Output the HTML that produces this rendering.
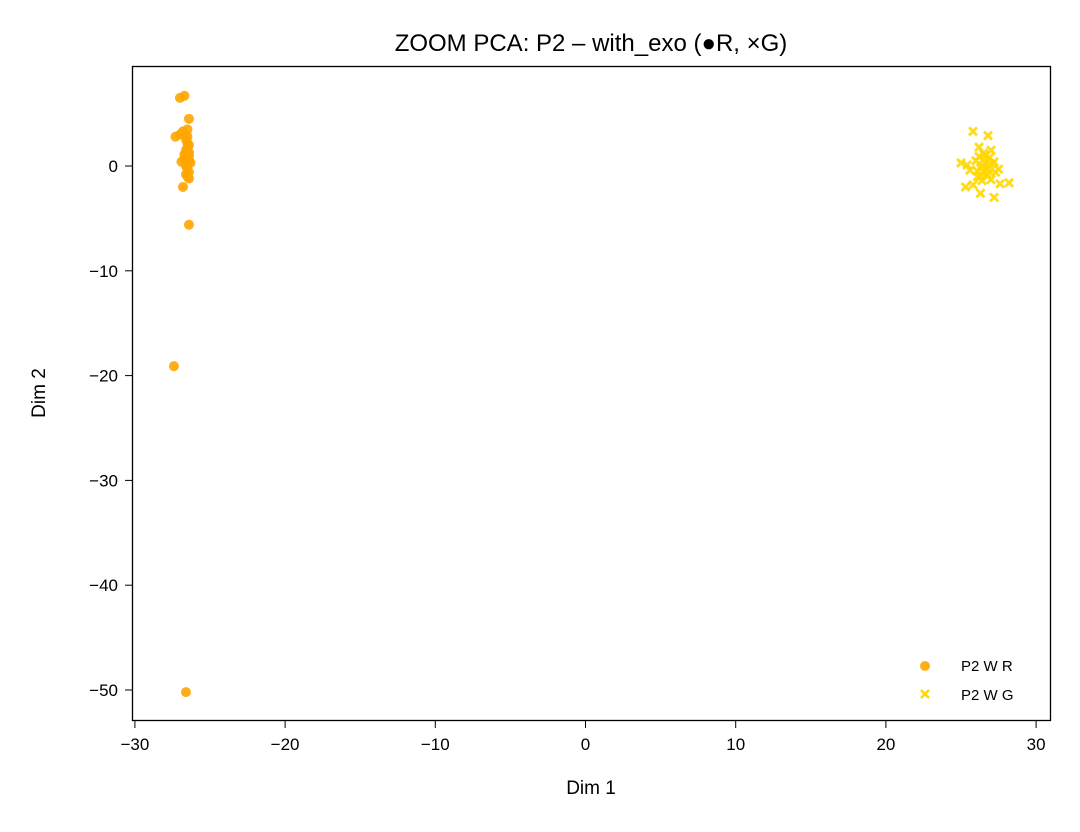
<!DOCTYPE html>
<html><head><meta charset="utf-8"><style>
body{margin:0;background:#fff;}
text{font-family:"Liberation Sans","DejaVu Sans",sans-serif;fill:#000;}
</style></head><body>
<svg id="chart" width="1080" height="827" xmlns="http://www.w3.org/2000/svg">
<rect width="1080" height="827" fill="#fff"/>
<text x="591" y="51" font-size="24" text-anchor="middle">ZOOM PCA: P2 – with_exo (●R, ×G)</text>
<g id="marks"></g>
<rect x="132.5" y="66.5" width="918" height="654" fill="none" stroke="#000" stroke-width="1.3"/>
<g id="ticks"></g>
<text x="591" y="794" font-size="19" text-anchor="middle">Dim 1</text>
<text transform="translate(45,393) rotate(-90)" font-size="19" text-anchor="middle">Dim 2</text>
<g>
<circle cx="925" cy="666" r="5" fill="#FFA500" fill-opacity="0.9"/>
<text x="961" y="671" font-size="15">P2 W R</text>
<path d="M921,690 l8,8 M929,690 l-8,8" stroke="#FFD700" stroke-width="2.6"/>
<text x="961" y="700" font-size="15">P2 W G</text>
</g>
</svg>
<script>
const xTicks=[-30,-20,-10,0,10,20,30];
const yTicks=[0,-10,-20,-30,-40,-50];
const rX=[-27.0,-26.7,-26.4,-27.3,-27.0,-26.8,-26.5,-26.6,-26.4,-26.6,-26.4,-26.7,-26.3,-26.9,-26.5,-26.6,-26.4,-26.8,-26.4,-27.4,-26.6,-26.5,-26.4,-26.6,-26.5,-26.4,-26.5,-26.6,-26.4,-26.5,-26.7,-26.5,-26.4];
const rY=[6.5,6.7,4.5,2.8,3.0,3.3,3.5,2.5,2.0,1.5,1.0,0.8,0.3,0.4,-0.3,-0.8,-1.2,-2.0,-5.6,-19.1,-50.2,1.8,0.6,0.0,2.8,1.3,0.9,0.2,-0.6,2.2,1.1,-1.0,0.5];
const gX=[25.8,26.8,26.2,26.5,27.0,25.0,25.4,25.6,26.0,26.4,26.8,27.2,27.5,26.3,26.7,27.0,25.3,25.8,26.3,27.2,28.2,27.6,26.1,26.9,27.3,26.6,26.5,26.2,26.6,26.9,26.4,26.7,26.1,26.5,26.8,26.3,27.1];
const gY=[3.3,2.9,1.8,1.2,1.5,0.3,0.1,-0.4,0.5,0.0,-0.2,0.4,-0.3,-1.0,-0.8,-1.3,-2.0,-1.8,-2.6,-3.0,-1.6,-1.7,-0.5,0.8,-0.6,0.3,-0.5,0.9,1.0,0.1,-1.4,-0.3,-1.0,0.6,-0.9,-0.2,0.2];
const sx=v=>585.5+v*15.02;
const sy=v=>166-v*10.48;
const NS="http://www.w3.org/2000/svg";
const marks=document.getElementById('marks');
const ticks=document.getElementById('ticks');
rX.forEach((v,i)=>{
 const c=document.createElementNS(NS,'circle');
 
 
 c.setAttribute('cx',sx(v));c.setAttribute('cy',sy(rY[i]));c.setAttribute('r',5);
 c.setAttribute('fill','#FFA500');c.setAttribute('fill-opacity','0.9');
 marks.appendChild(c);
});
gX.forEach((v,i)=>{
 const x=sx(v),y=sy(gY[i]);
 const p=document.createElementNS(NS,'path');
 
 
 p.setAttribute('d',`M${x-4},${y-4}l8,8M${x+4},${y-4}l-8,8`);
 p.setAttribute('stroke','#FFD700');p.setAttribute('stroke-width','2.8');p.setAttribute('stroke-opacity','0.9');
 marks.appendChild(p);
});
xTicks.forEach(v=>{
 const x=sx(v);
 const l=document.createElementNS(NS,'line');
 
 
 l.setAttribute('x1',x);l.setAttribute('x2',x);l.setAttribute('y1',721);l.setAttribute('y2',728);l.setAttribute('stroke','#000');
 ticks.appendChild(l);
 const t=document.createElementNS(NS,'text');
 
 
 t.setAttribute('x',x);t.setAttribute('y',750);t.setAttribute('font-size','17');t.setAttribute('text-anchor','middle');
 t.textContent=v<0?'\u2212'+(-v):String(v);
 ticks.appendChild(t);
});
yTicks.forEach(v=>{
 const y=sy(v);
 const l=document.createElementNS(NS,'line');
 
 
 l.setAttribute('x1',125);l.setAttribute('x2',132);l.setAttribute('y1',y);l.setAttribute('y2',y);l.setAttribute('stroke','#000');
 ticks.appendChild(l);
 const t=document.createElementNS(NS,'text');
 
 
 t.setAttribute('x',118);t.setAttribute('y',y+6);t.setAttribute('font-size','17');t.setAttribute('text-anchor','end');
 t.textContent=v<0?'\u2212'+(-v):String(v);
 ticks.appendChild(t);
});
</script>
</body></html>
